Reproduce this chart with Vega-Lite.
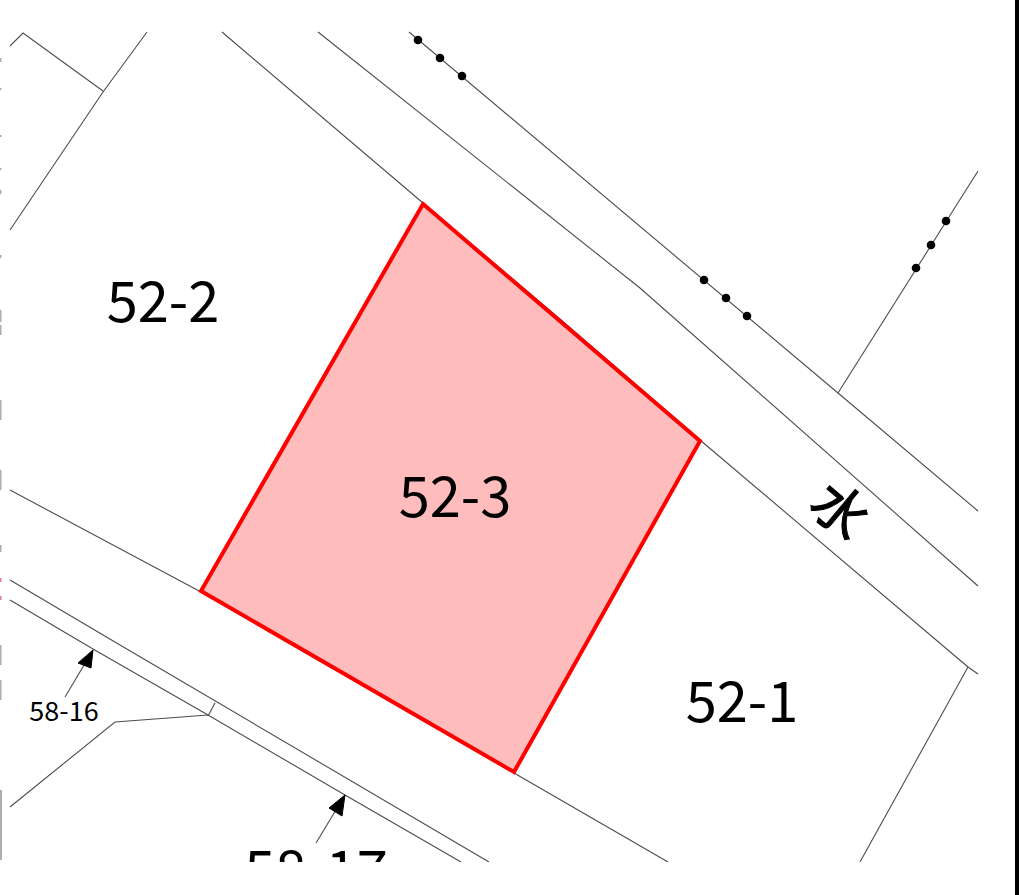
{"$schema":"https://vega.github.io/schema/vega-lite/v6.json","width":1019,"height":895,"padding":0,"autosize":{"type":"none"},"background":"white","config":{"view":{"stroke":null}},
"datasets":{
"lines":[
{"seg":"a","i":1,"x":10,"y":46},{"seg":"a","i":2,"x":23,"y":33},{"seg":"a","i":3,"x":103,"y":91},
{"seg":"b","i":1,"x":147,"y":32},{"seg":"b","i":2,"x":103,"y":92},{"seg":"b","i":3,"x":10,"y":230},
{"seg":"c","i":1,"x":222,"y":32},{"seg":"c","i":2,"x":423,"y":203},{"seg":"c","i":3,"x":560,"y":319},{"seg":"c","i":4,"x":700,"y":440},{"seg":"c","i":5,"x":968,"y":667},{"seg":"c","i":6,"x":978,"y":674},
{"seg":"d","i":1,"x":968,"y":667},{"seg":"d","i":2,"x":860,"y":862},
{"seg":"e","i":1,"x":318,"y":32},{"seg":"e","i":2,"x":640,"y":288},{"seg":"e","i":3,"x":978,"y":586},
{"seg":"f","i":1,"x":409,"y":32},{"seg":"f","i":2,"x":838,"y":393},{"seg":"f","i":3,"x":978,"y":511},
{"seg":"g","i":1,"x":838,"y":393},{"seg":"g","i":2,"x":978,"y":171},
{"seg":"h","i":1,"x":10,"y":490},{"seg":"h","i":2,"x":201,"y":592},{"seg":"h","i":3,"x":360,"y":684},{"seg":"h","i":4,"x":514,"y":773},{"seg":"h","i":5,"x":668,"y":862},
{"seg":"j","i":1,"x":10,"y":580},{"seg":"j","i":2,"x":120,"y":645},{"seg":"j","i":3,"x":489,"y":862},
{"seg":"k","i":1,"x":10,"y":600},{"seg":"k","i":2,"x":93,"y":649},{"seg":"k","i":3,"x":208,"y":715},{"seg":"k","i":4,"x":345,"y":795},{"seg":"k","i":5,"x":461,"y":862},
{"seg":"l","i":1,"x":215,"y":703},{"seg":"l","i":2,"x":208,"y":716},
{"seg":"m","i":1,"x":208,"y":715},{"seg":"m","i":2,"x":115,"y":722},{"seg":"m","i":3,"x":10,"y":807},
{"seg":"n","i":1,"x":65,"y":697},{"seg":"n","i":2,"x":93,"y":650},
{"seg":"o","i":1,"x":316,"y":843},{"seg":"o","i":2,"x":345,"y":795}
],
"heads":[
{"seg":"p","i":1,"x":93,"y":650},{"seg":"p","i":2,"x":78,"y":663},{"seg":"p","i":3,"x":91,"y":668},{"seg":"p","i":4,"x":93,"y":650},
{"seg":"q","i":1,"x":345,"y":795},{"seg":"q","i":2,"x":329,"y":808},{"seg":"q","i":3,"x":342,"y":816},{"seg":"q","i":4,"x":345,"y":795}
],
"parcel":[
{"i":1,"x":423,"y":204},{"i":2,"x":700,"y":441},{"i":3,"x":514,"y":772},{"i":4,"x":201,"y":591},{"i":5,"x":423,"y":204},{"i":6,"x":700,"y":441}
],
"dots":[
{"x":418,"y":40},{"x":440,"y":58},{"x":462,"y":76},{"x":704,"y":280},{"x":726,"y":298},{"x":747,"y":316},{"x":916,"y":268},{"x":931,"y":245},{"x":946,"y":221}
],
"big":[{"t":"52-2","x":163,"y":305},{"t":"52-3","x":455,"y":500},{"t":"52-1","x":742,"y":705},{"t":"58-17","x":316,"y":874}],
"small":[{"t":"58-16","x":64,"y":713}],
"water":[{"t":"水","x":838,"y":513}],
"mask":[{"x":0,"x2":1014,"y":862,"y2":895}],
"edge":[{"x":1015,"x2":1019,"y":0,"y2":895}],
"debrisGray":[
{"x":0,"x2":1.5,"y":58,"y2":62},{"x":0,"x2":1.5,"y":88,"y2":90},{"x":0,"x2":1.5,"y":135,"y2":137},{"x":0,"x2":1.5,"y":168,"y2":170},{"x":0,"x2":1.5,"y":190,"y2":194},{"x":0,"x2":1.5,"y":255,"y2":258},{"x":0,"x2":1.5,"y":310,"y2":322},{"x":0,"x2":1.5,"y":325,"y2":335},{"x":0,"x2":1.5,"y":400,"y2":420},{"x":0,"x2":1.5,"y":470,"y2":490},{"x":0,"x2":1.5,"y":545,"y2":552},{"x":0,"x2":1.5,"y":645,"y2":665},{"x":0,"x2":1.5,"y":680,"y2":700},{"x":0,"x2":2,"y":790,"y2":860}
],
"debrisPink":[
{"x":0,"x2":1.5,"y":578,"y2":582},{"x":0,"x2":1.5,"y":596,"y2":600}
]
},
"encoding":{
"x":{"field":"x","type":"quantitative","scale":{"domain":[0,1019],"nice":false,"zero":false},"axis":null},
"y":{"field":"y","type":"quantitative","scale":{"domain":[895,0],"nice":false,"zero":false},"axis":null}
},
"layer":[
{"data":{"name":"lines"},"mark":{"type":"line","stroke":"#4d4d4d","strokeWidth":1.1,"clip":false},"encoding":{"detail":{"field":"seg"},"order":{"field":"i"}}},
{"data":{"name":"heads"},"mark":{"type":"line","stroke":"#000000","fill":"#000000","strokeWidth":1},"encoding":{"detail":{"field":"seg"},"order":{"field":"i"}}},
{"data":{"name":"parcel"},"mark":{"type":"line","stroke":"#ff0000","fill":"#ffbcbc","strokeWidth":4,"strokeJoin":"miter"},"encoding":{"order":{"field":"i"}}},
{"data":{"name":"dots"},"mark":{"type":"point","filled":true,"color":"#000000","size":75,"opacity":1}},
{"data":{"name":"big"},"mark":{"type":"text","font":"Noto Sans CJK JP","fontSize":56,"color":"#000000"},"encoding":{"text":{"field":"t"}}},
{"data":{"name":"small"},"mark":{"type":"text","font":"Noto Sans CJK JP","fontSize":27,"color":"#000000"},"encoding":{"text":{"field":"t"}}},
{"data":{"name":"water"},"mark":{"type":"text","font":"Noto Sans CJK JP","fontSize":54,"angle":40,"color":"#000000","stroke":"#000000","strokeWidth":1},"encoding":{"text":{"field":"t"}}},
{"data":{"name":"mask"},"mark":{"type":"rect","color":"#ffffff","opacity":1},"encoding":{"x2":{"field":"x2"},"y2":{"field":"y2"}}},
{"data":{"name":"edge"},"mark":{"type":"rect","color":"#000000","opacity":1},"encoding":{"x2":{"field":"x2"},"y2":{"field":"y2"}}},
{"data":{"name":"debrisGray"},"mark":{"type":"rect","color":"#9a9a9a","opacity":0.8},"encoding":{"x2":{"field":"x2"},"y2":{"field":"y2"}}},
{"data":{"name":"debrisPink"},"mark":{"type":"rect","color":"#e0529c","opacity":0.8},"encoding":{"x2":{"field":"x2"},"y2":{"field":"y2"}}}
]}
